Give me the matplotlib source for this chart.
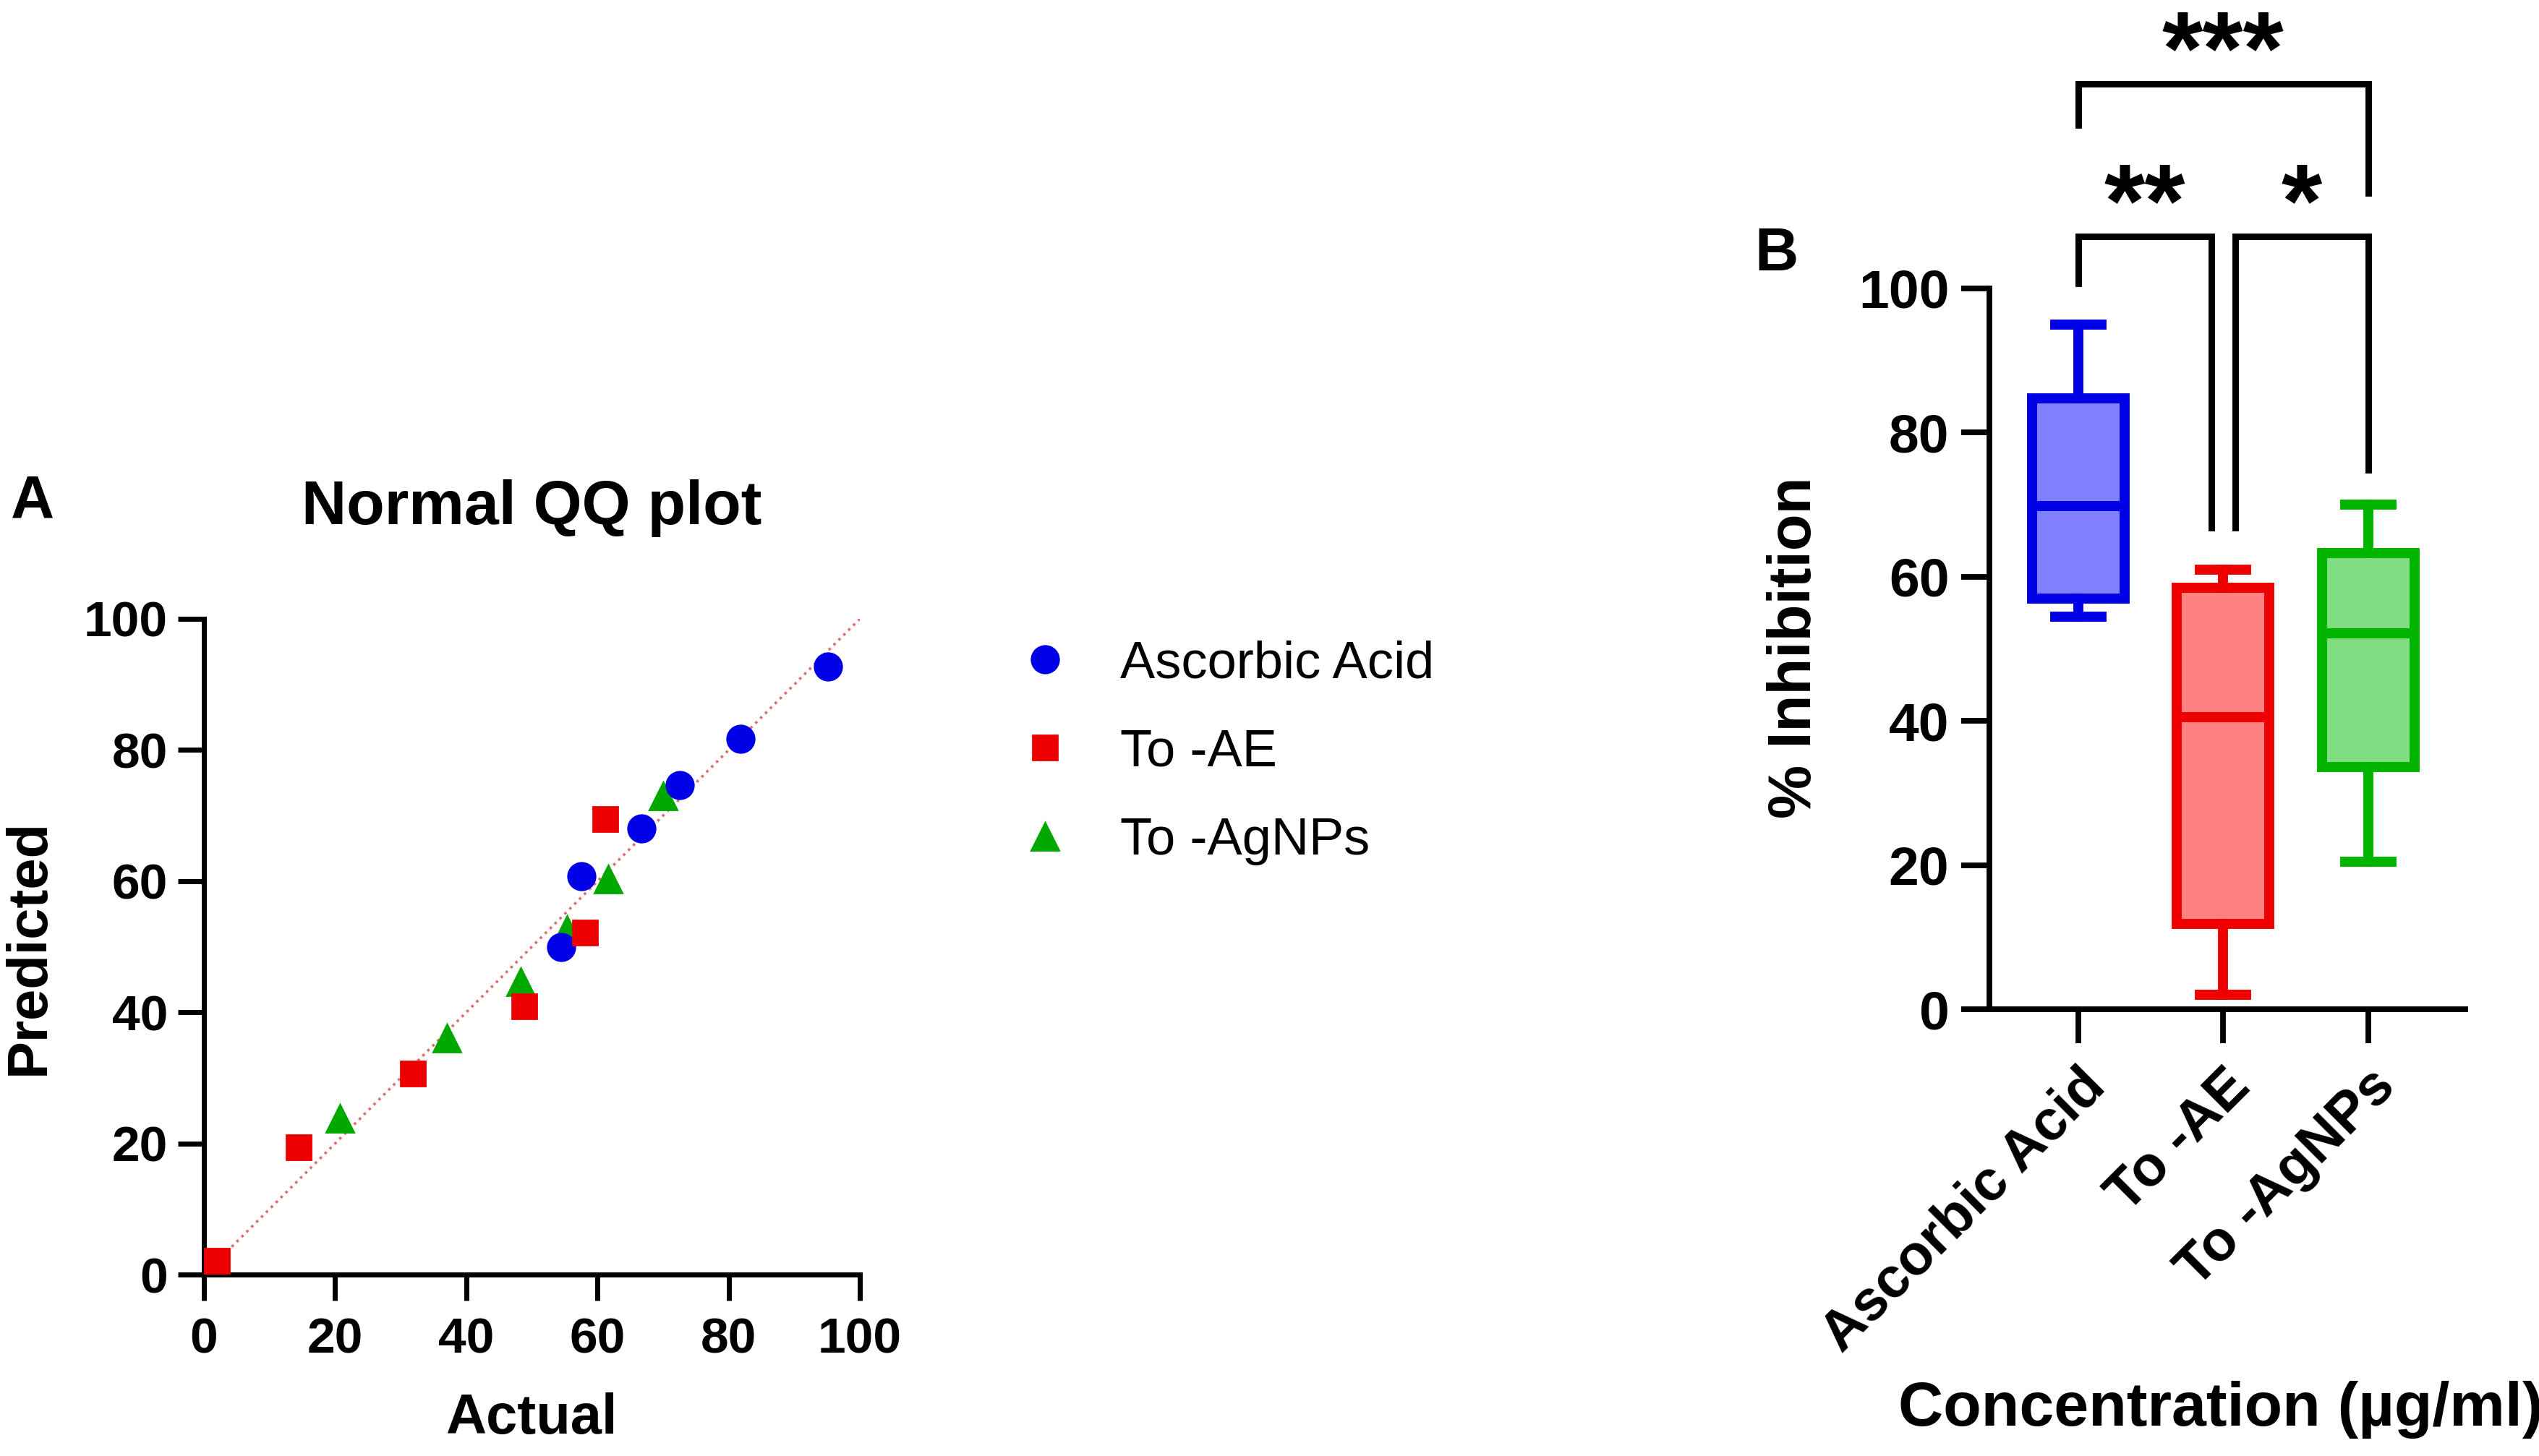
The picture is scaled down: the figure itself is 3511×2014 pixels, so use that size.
import matplotlib
matplotlib.use("Agg")
import matplotlib.pyplot as plt

plt.rcParams['font.family'] = ['Liberation Sans', 'DejaVu Sans']

# Panel A - Normal QQ plot (actual vs predicted)
asc_actual = [95.1, 81.8, 72.5, 66.7, 57.5, 54.4]
asc_pred = [92.7, 81.7, 74.6, 68.0, 60.8, 50.0]
ae_actual = [2.0, 14.4, 31.9, 48.8, 58.1, 61.2]
ae_pred = [2.1, 19.4, 30.7, 40.9, 52.2, 69.5]
ag_actual = [20.7, 37.0, 48.3, 55.3, 61.6, 70.0]
ag_pred = [23.8, 36.1, 44.6, 52.6, 60.3, 73.0]
line_x = [2, 100]
line_y = [2, 100]

# Panel B - box plot summary (% inhibition)
groups = ["Ascorbic Acid", "To -AE", "To -AgNPs"]
whis_lo = [54.5, 2.0, 20.5]
q1 = [57.0, 11.8, 33.6]
med = [69.8, 40.5, 52.2]
q3 = [84.8, 58.5, 63.3]
whis_hi = [95.0, 61.0, 70.0]
edge_cols = ["#0000e6", "#ee0000", "#00b400"]
fill_cols = ["#8080ff", "#ff8080", "#80dc80"]

# significance brackets: (left x, right x, top y, left leg end, right leg end, label, label baseline)
sig = [
    (0, 2, 128.4, 122.7, 113.2, "***", 128.4),
    (0, 0.918, 107.2, 100.7, 66.8, "**", 107.2),
    (1.082, 2, 107.2, 66.8, 74.8, "*", 107.2),
]

fig = plt.figure(figsize=(17.56, 10.07), dpi=200)

# ---------- A ----------
axA = fig.add_axes([0.0803, 0.1246, 0.2583, 0.4504])
axA.plot(line_x, line_y, ls=':', color='#e07070', lw=1.3, zorder=1)
axA.plot(asc_actual, asc_pred, 'o', color='#0000e6', ms=13.5, ls='none', label='Ascorbic Acid', zorder=3)
axA.plot(ae_actual, ae_pred, 's', color='#ee0000', ms=12.5, ls='none', label='To -AE', zorder=3)
axA.plot(ag_actual, ag_pred, '^', color='#00a800', ms=13.5, ls='none', label='To -AgNPs', zorder=2)
axA.set_xlim(0, 100)
axA.set_ylim(0, 100)
axA.set_xticks(range(0, 101, 20))
axA.set_yticks(range(0, 101, 20))
for s in ['top', 'right']:
    axA.spines[s].set_visible(False)
for s in ['left', 'bottom']:
    axA.spines[s].set_linewidth(2.5)
axA.tick_params(length=13, width=2.5, labelsize=25)
axA.tick_params(axis='y', pad=5)
axA.tick_params(axis='x', pad=8)
for t in axA.get_xticklabels() + axA.get_yticklabels():
    t.set_fontweight('bold')
for pt in axA.lines[1:]:
    pt.set_clip_on(False)

fig.text(0.0128, 0.6554, "A", fontsize=30, fontweight='bold', ha='center', va='center')
fig.text(0.2093, 0.651, "Normal QQ plot", fontsize=31, fontweight='bold', ha='center', va='center')
fig.text(0.2093, 0.0258, "Actual", fontsize=28, fontweight='bold', ha='center', va='center')
fig.text(0.0114, 0.3496, "Predicted", fontsize=28, fontweight='bold', ha='center', va='center', rotation=90)

fig.legend(handles=axA.lines[1:], loc='center left', bbox_to_anchor=(0.3725, 0.483),
           frameon=False, handletextpad=0.43, labelspacing=0.77, markerscale=1.0,
           prop={'size': 26})

# ---------- B ----------
axB = fig.add_axes([0.7833, 0.3068, 0.1874, 0.4951])
for i in range(len(groups)):
    st = dict(whislo=whis_lo[i], q1=q1[i], med=med[i], q3=q3[i], whishi=whis_hi[i], label=groups[i])
    axB.bxp([st], positions=[i], widths=0.64, showfliers=False, patch_artist=True,
            boxprops=dict(facecolor=fill_cols[i], edgecolor=edge_cols[i], linewidth=5),
            medianprops=dict(color=edge_cols[i], linewidth=5, solid_capstyle='butt'),
            whiskerprops=dict(color=edge_cols[i], linewidth=5),
            capprops=dict(color=edge_cols[i], linewidth=5),
            capwidths=0.32)
axB.set_xlim(-0.613, 2.67)
axB.set_ylim(0, 100)
axB.set_yticks(range(0, 101, 20))
axB.set_xticks(range(len(groups)))
axB.set_xticklabels(groups, rotation=45, ha='right', rotation_mode='anchor')
for s in ['top', 'right']:
    axB.spines[s].set_visible(False)
for s in ['left', 'bottom']:
    axB.spines[s].set_linewidth(2.8)
axB.tick_params(axis='y', length=14, width=2.8, labelsize=27, pad=6)
axB.tick_params(axis='x', length=17, width=2.8, labelsize=28, pad=8)
for t in axB.get_xticklabels() + axB.get_yticklabels():
    t.set_fontweight('bold')

for x0, x1, y, yl, yr, lab, ly in sig:
    axB.plot([x0, x0, x1, x1], [yl, y, y, yr], color='black', lw=3.2, clip_on=False,
             solid_joinstyle='miter')
    axB.text((x0 + x1) / 2, ly, lab, ha='center', va='baseline', fontsize=52, fontweight='bold')

fig.text(0.6996, 0.8252, "B", fontsize=30, fontweight='bold', ha='center', va='center')
fig.text(0.7067, 0.555, "% Inhibition", fontsize=30, fontweight='bold', ha='center', va='center',
         rotation=90)
fig.text(0.8745, 0.032, "Concentration (µg/ml)", fontsize=31, fontweight='bold', ha='center',
         va='center')

fig.savefig("out.png", dpi=200, facecolor='white')
